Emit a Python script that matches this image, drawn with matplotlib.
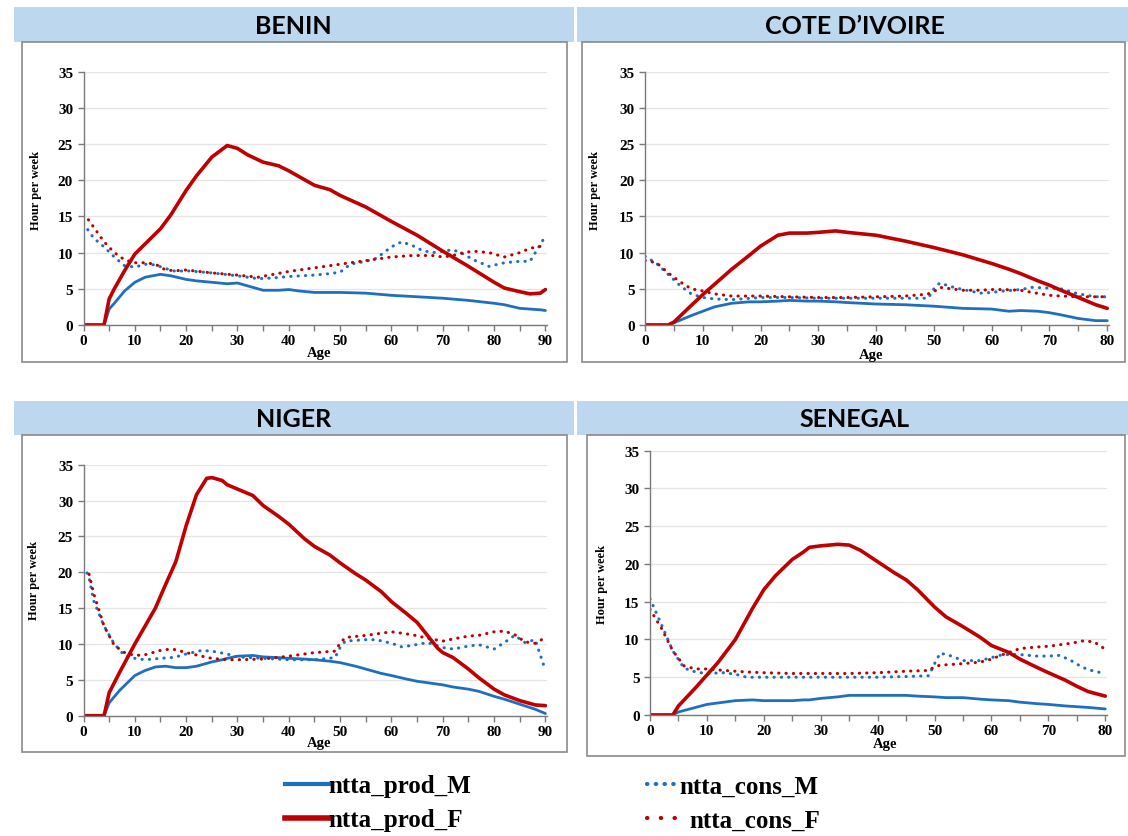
import matplotlib.pyplot as plt
from matplotlib.patches import Rectangle
from matplotlib.lines import Line2D
from matplotlib.ticker import MultipleLocator

# ---- data (hours per week by age) ----
benin_prod_age = [0, 4, 5, 6, 8, 10, 12, 15, 17, 20, 22, 25, 28, 30, 32, 35, 38, 40, 42, 45, 48, 50,
                  55, 60, 65, 70, 75, 80, 82, 85, 87, 89, 90]
benin_prod_M = [0, 0, 2.2, 3.0, 4.7, 5.9, 6.6, 7.0, 6.8, 6.3, 6.1, 5.9, 5.7, 5.8, 5.4, 4.8, 4.8, 4.9, 4.7,
                4.5, 4.5, 4.5, 4.4, 4.1, 3.9, 3.7, 3.4, 3.0, 2.8, 2.3, 2.2, 2.1, 2.0]
benin_prod_F = [0, 0, 3.6, 5.0, 7.5, 9.8, 11.2, 13.3, 15.2, 18.6, 20.6, 23.2, 24.8, 24.4, 23.5, 22.5, 22.0,
                21.3, 20.5, 19.3, 18.7, 17.9, 16.3, 14.3, 12.4, 10.2, 8.1, 5.9, 5.1, 4.6, 4.3, 4.4, 4.9]
benin_cons_age = [0, 1, 2, 4, 6, 8, 10, 12, 14, 16, 18, 20, 25, 30, 34, 37, 40, 45, 48, 50, 52, 55, 57, 60,
                  62, 64, 66, 68, 70, 72, 74, 76, 79, 82, 85, 87, 90]
benin_cons_M = [14.0, 13.0, 12.0, 10.8, 9.4, 8.2, 8.0, 8.4, 8.3, 7.8, 7.4, 7.5, 7.2, 6.8, 6.4, 6.5, 6.7, 6.9,
                7.1, 7.3, 8.4, 8.8, 9.2, 10.8, 11.5, 11.0, 10.3, 10.0, 10.2, 10.4, 9.8, 9.0, 8.1, 8.6, 8.8,
                8.8, 12.3]
benin_cons_F = [15.3, 14.5, 13.5, 11.5, 10.0, 9.0, 8.6, 8.6, 8.4, 7.6, 7.5, 7.6, 7.2, 6.9, 6.6, 7.0, 7.4, 7.9,
                8.2, 8.4, 8.6, 8.9, 9.1, 9.4, 9.5, 9.6, 9.6, 9.6, 9.4, 9.6, 10.0, 10.2, 10.0, 9.4, 10.0,
                10.6, 11.0]

civ_prod_age = [0, 4, 5, 8, 10, 12, 15, 18, 20, 23, 25, 28, 30, 33, 35, 40, 45, 50, 55, 60, 63, 65, 68, 70,
                72, 75, 78, 80]
civ_prod_M = [0, 0, 0.3, 1.3, 1.9, 2.5, 3.0, 3.2, 3.2, 3.3, 3.4, 3.3, 3.3, 3.2, 3.1, 2.9, 2.8, 2.6, 2.3, 2.2,
              1.9, 2.0, 1.9, 1.7, 1.4, 0.9, 0.6, 0.6]
civ_prod_F = [0, 0, 0.4, 2.7, 4.2, 5.6, 7.7, 9.6, 10.9, 12.4, 12.7, 12.7, 12.8, 13.0, 12.8, 12.4, 11.6, 10.7,
              9.7, 8.5, 7.7, 7.1, 6.1, 5.5, 4.8, 3.8, 2.8, 2.3]
civ_cons_age = [0, 2, 4, 6, 8, 10, 12, 15, 20, 25, 30, 35, 40, 45, 48, 49, 50, 51, 53, 55, 58, 60, 62, 65,
                67, 70, 72, 75, 78, 80]
civ_cons_M = [9.5, 8.5, 7.0, 5.5, 4.3, 3.8, 3.6, 3.5, 3.8, 3.8, 3.7, 3.7, 3.7, 3.7, 3.7, 3.7, 5.0, 5.8, 5.3,
              4.9, 4.4, 4.5, 4.7, 4.9, 5.2, 5.1, 5.0, 4.3, 3.9, 3.9]
civ_cons_F = [8.9, 8.6, 7.2, 6.0, 5.0, 4.7, 4.3, 4.0, 4.0, 3.9, 3.8, 3.8, 3.9, 4.0, 4.2, 4.3, 4.6, 5.2, 5.0,
              4.8, 4.8, 4.9, 4.9, 4.8, 4.5, 4.1, 4.0, 3.9, 3.9, 3.9]

niger_prod_age = [0, 4, 5, 7, 10, 12, 14, 16, 18, 20, 22, 24, 25, 27, 28, 30, 33, 35, 38, 40, 43, 45, 48,
                  50, 53, 55, 58, 60, 63, 65, 67, 69, 70, 72, 75, 77, 80, 82, 85, 88, 90]
niger_prod_M = [0, 0, 1.8, 3.5, 5.6, 6.3, 6.8, 6.9, 6.7, 6.7, 6.9, 7.3, 7.5, 7.8, 8.0, 8.3, 8.4, 8.2, 8.1,
                8.0, 7.9, 7.8, 7.6, 7.4, 6.9, 6.5, 5.9, 5.6, 5.1, 4.8, 4.6, 4.4, 4.3, 4.0, 3.7, 3.4, 2.7,
                2.3, 1.6, 0.9, 0.3]
niger_prod_F = [0, 0, 3.2, 6.0, 10.0, 12.5, 15.0, 18.3, 21.5, 26.5, 30.8, 33.1, 33.2, 32.8, 32.2, 31.6,
                30.7, 29.3, 27.8, 26.7, 24.7, 23.6, 22.4, 21.3, 19.8, 18.9, 17.3, 15.9, 14.2, 13.0, 11.2,
                9.4, 8.8, 8.1, 6.5, 5.3, 3.7, 2.9, 2.1, 1.5, 1.4]
niger_cons_age = [0, 1, 2, 4, 6, 8, 10, 12, 15, 17, 18, 20, 23, 25, 28, 30, 35, 40, 45, 49, 50, 51, 55, 57,
                  60, 62, 64, 67, 70, 72, 75, 77, 80, 82, 84, 86, 88, 90]
niger_cons_M = [20.8, 19.5, 16.0, 12.5, 10.0, 8.4, 8.0, 7.8, 8.0, 8.1, 8.2, 8.6, 9.1, 9.0, 8.6, 8.2, 8.0,
                7.8, 7.8, 8.1, 9.5, 10.4, 10.6, 10.6, 10.1, 9.6, 9.8, 10.2, 9.5, 9.3, 9.7, 9.9, 9.3, 10.2,
                11.2, 10.2, 10.6, 6.3]
niger_cons_F = [19.8, 20.0, 17.0, 12.5, 9.8, 8.8, 8.4, 8.5, 9.1, 9.3, 9.2, 8.8, 8.3, 8.0, 7.8, 7.8, 7.9,
                8.3, 8.8, 9.0, 10.1, 10.9, 11.2, 11.4, 11.7, 11.5, 11.3, 10.8, 10.4, 10.7, 11.1, 11.2, 11.7,
                11.8, 11.3, 10.3, 10.1, 10.9]

sen_prod_age = [0, 4, 5, 8, 10, 12, 15, 18, 20, 22, 25, 27, 28, 30, 33, 35, 37, 40, 43, 45, 47, 50, 52, 55,
                58, 60, 63, 65, 68, 70, 73, 75, 77, 80]
sen_prod_M = [0, 0, 0.4, 1.0, 1.4, 1.6, 1.9, 2.0, 1.9, 1.9, 1.9, 2.0, 2.0, 2.2, 2.4, 2.6, 2.6, 2.6, 2.6, 2.6,
              2.5, 2.4, 2.3, 2.3, 2.1, 2.0, 1.9, 1.7, 1.5, 1.4, 1.2, 1.1, 1.0, 0.8]
sen_prod_F = [0, 0, 1.2, 3.6, 5.3, 7.0, 10.0, 14.1, 16.6, 18.4, 20.6, 21.6, 22.2, 22.4, 22.6, 22.5, 21.8,
              20.3, 18.8, 17.9, 16.6, 14.3, 13.0, 11.7, 10.3, 9.2, 8.3, 7.4, 6.3, 5.6, 4.6, 3.8, 3.1, 2.5]
sen_cons_age = [0, 2, 4, 6, 8, 10, 13, 15, 17, 20, 25, 30, 35, 40, 45, 49, 50, 51, 53, 55, 58, 60, 62, 65,
                68, 70, 72, 74, 76, 78, 80]
sen_cons_M = [15.4, 12.0, 8.5, 6.2, 5.7, 5.5, 5.6, 5.4, 5.0, 5.0, 5.0, 5.0, 5.0, 5.0, 5.1, 5.2, 6.8, 8.2,
              7.8, 7.2, 7.2, 7.6, 8.0, 8.0, 7.8, 7.8, 7.9, 7.2, 6.3, 5.8, 5.5]
sen_cons_F = [14.0, 11.5, 8.5, 6.5, 6.1, 6.1, 5.9, 5.8, 5.7, 5.6, 5.5, 5.5, 5.5, 5.6, 5.8, 5.9, 6.4, 6.6,
              6.7, 6.8, 7.0, 7.4, 8.0, 8.8, 9.0, 9.1, 9.3, 9.5, 9.8, 9.7, 8.7]

series_labels = ['ntta_prod_M', 'ntta_prod_F', 'ntta_cons_M', 'ntta_cons_F']

# ---- style ----
BLUE = '#1f6fc0'
RED = '#c00000'
HEAD = '#bdd7ee'
FRAME = '#8a8a8a'
SERIF = 'Liberation Serif'
DOT = (0, (0.1, 2.3))

W, H = 1128, 837
fig = plt.figure(figsize=(W / 100, H / 100), dpi=100)


def rect(x0, y0, x1, y1):
    # pixel box (top-left origin) -> figure fraction
    return [x0 / W, 1 - y1 / H, (x1 - x0) / W, (y1 - y0) / H]


panels = [
    # title, header, frame, axes, xmax, title pos, ylabel pos, xlabel pos, data
    ('BENIN', (14, 8, 574, 43), (22, 43, 567, 363), (83.5, 72.7, 547, 326), 90,
     (293, 26), (36, 190), (319, 354),
     (benin_prod_age, benin_prod_M, benin_prod_F, benin_cons_age, benin_cons_M, benin_cons_F)),
    ('COTE D\u2019IVOIRE', (577, 8, 1128, 43), (582, 43, 1125, 363), (645, 72.7, 1109, 326), 80,
     (855, 26), (595, 190), (871, 356),
     (civ_prod_age, civ_prod_M, civ_prod_F, civ_cons_age, civ_cons_M, civ_cons_F)),
    ('NIGER', (14, 402, 574, 436), (22, 436, 567, 753), (83.5, 465.7, 547, 716.7), 90,
     (294, 420), (34, 580), (319, 744),
     (niger_prod_age, niger_prod_M, niger_prod_F, niger_cons_age, niger_cons_M, niger_cons_F)),
    ('SENEGAL', (577, 402, 1128, 436), (587, 436, 1125, 757), (650, 451.7, 1107, 716), 80,
     (855, 420), (602, 584), (885, 745),
     (sen_prod_age, sen_prod_M, sen_prod_F, sen_cons_age, sen_cons_M, sen_cons_F)),
]

for title, hd, fr, ax_px, xmax, tpos, ypos, xpos, data in panels:
    fig.add_artist(Rectangle((hd[0] / W, 1 - hd[3] / H), (hd[2] - hd[0]) / W, (hd[3] - hd[1]) / H,
                             transform=fig.transFigure, facecolor=HEAD, edgecolor='none', zorder=-2))
    fig.add_artist(Rectangle((fr[0] / W, 1 - fr[3] / H), (fr[2] - fr[0]) / W, (fr[3] - fr[1]) / H,
                             transform=fig.transFigure, facecolor='white', edgecolor=FRAME, lw=1.2,
                             zorder=-1))
    fig.text(tpos[0] / W, 1 - tpos[1] / H, title, ha='center', va='center', family='Lato',
             fontweight='bold', fontsize=18)

    ax = fig.add_axes(rect(*ax_px))
    ax.set_facecolor('none')
    page, pm, pf, cage, cm, cf = data
    ax.plot(page, pm, color=BLUE, lw=2.0, solid_capstyle='round', label=series_labels[0])
    ax.plot(cage, cm, color=BLUE, lw=2.2, ls=DOT, dash_capstyle='round', label=series_labels[2])
    ax.plot(page, pf, color=RED, lw=2.6, solid_capstyle='round', label=series_labels[1])
    ax.plot(cage, cf, color=RED, lw=2.2, ls=DOT, dash_capstyle='round', label=series_labels[3])

    ax.set_xlim(0, xmax + 0.3)
    ax.set_ylim(0, 35)
    ax.xaxis.set_major_locator(MultipleLocator(10))
    ax.xaxis.set_minor_locator(MultipleLocator(5))
    ax.yaxis.set_major_locator(MultipleLocator(5))
    ax.grid(axis='y', color='#e4e4e4', lw=0.9)
    ax.set_axisbelow(True)
    for s in ('top', 'right'):
        ax.spines[s].set_visible(False)
    for s in ('left', 'bottom'):
        ax.spines[s].set_color('#7a7a7a')
        ax.spines[s].set_linewidth(1.0)
    ax.tick_params(which='both', direction='out', length=4.5, color='#7a7a7a', width=1)
    ax.tick_params(axis='x', pad=2)
    ax.tick_params(axis='y', pad=3)
    for lab in ax.get_xticklabels() + ax.get_yticklabels():
        lab.set_family(SERIF)
        lab.set_fontweight('bold')
        lab.set_fontsize(11)

    fig.text(ypos[0] / W, 1 - ypos[1] / H, 'Hour per week', rotation=90, ha='center', va='center',
             family=SERIF, fontweight='bold', fontsize=9)
    fig.text(xpos[0] / W, 1 - xpos[1] / H, 'Age', ha='center', va='center',
             family=SERIF, fontweight='bold', fontsize=10.5)

# ---- legend: one entry per legend so each can sit where the original puts it ----
leg_prop = {'family': SERIF, 'weight': 'bold', 'size': 18}
leg_entries = [
    (Line2D([], [], color=BLUE, lw=3.0), series_labels[0], 285, 787, 1.75, 0.0),
    (Line2D([], [], color=RED, lw=4.0), series_labels[1], 285, 821, 1.75, 0.0),
    (Line2D([], [], color=BLUE, lw=3.0, ls=(0, (0.1, 2.0)), dash_capstyle='round'),
     series_labels[2], 647, 787, 1.3, 0.0),
    (Line2D([], [], color=RED, lw=3.0, ls=(0, (0.1, 3.2)), dash_capstyle='round'),
     series_labels[3], 647, 821, 1.2, 0.5),
]
for handle, label, lx, ly, hlen, hpad in leg_entries:
    fig.legend([handle], [label], loc='center left', bbox_to_anchor=(lx / W, 1 - ly / H),
               frameon=False, borderpad=0, borderaxespad=0, handlelength=hlen,
               handletextpad=hpad, prop=leg_prop)

fig.savefig('out.png', dpi=100)
